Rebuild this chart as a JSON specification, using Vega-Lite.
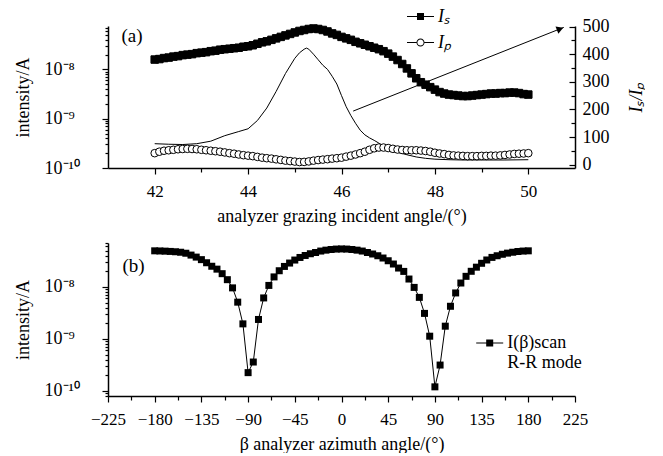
{
"$schema": "https://vega.github.io/schema/vega-lite/v6.json",
"padding": {"left": 14, "top": 3, "right": 0, "bottom": 0},
"spacing": 9,
"resolve": {"scale": {"shape": "independent", "fill": "independent", "x": "independent", "y": "independent"}, "legend": {"shape": "independent", "fill": "independent"}},
"config": {
 "font": "Liberation Serif",
 "view": {"stroke": null},
 "axis": {"labelFont": "Liberation Serif", "labelFontSize": 17, "labelColor": "black", "titleFont": "Liberation Serif", "titleFontSize": 18, "titleFontWeight": "normal", "titleColor": "black", "domainColor": "black", "domainWidth": 1.5, "tickColor": "black", "tickWidth": 1.2, "grid": false, "labelOverlap": false, "labelFlush": false},
 "legend": {"labelFont": "Liberation Serif", "labelFontSize": 18, "labelColor": "black", "padding": 0, "rowPadding": 3, "symbolStrokeWidth": 1, "labelOffset": 4},
 "text": {"font": "Liberation Serif", "color": "black"}
},
"vconcat": [
{
 "width": 467, "height": 142,
 "resolve": {"scale": {"y": "independent"}},
 "layer": [
  {
   "encoding": {
    "x": {"field": "x", "type": "quantitative", "scale": {"domain": [41, 51], "nice": false, "zero": false},
      "axis": {"values": [42,43,44,45,46,47,48,49,50], "labelExpr": "datum.value % 2 == 0 ? datum.label : ''", "tickSize": {"condition": {"test": "datum.value % 2 == 0", "value": 6}, "value": 4}, "labelPadding": 9, "title": "analyzer grazing incident angle/(°)", "titlePadding": 8}},
    "y": {"field": "r", "type": "quantitative", "scale": {"domain": [-12, 502], "nice": false, "zero": false},
      "axis": {"orient": "right", "values": [0,50,100,150,200,250,300,350,400,450,500], "labelExpr": "datum.value % 100 == 0 ? datum.label : ''", "tickSize": {"condition": {"test": "datum.value % 100 == 0", "value": -6}, "value": -4}, "labelPadding": 13, "labelFontSize": 18, "title": "Iₛ/Iₚ", "titleAngle": 270, "titleBaseline": "top", "titlePadding": 18, "titleFontStyle": "italic"}}
   },
   "layer": [
    {"data": {"values": [
      {"x":42.0,"r":76},{"x":42.3,"r":74},{"x":42.6,"r":73},{"x":42.9,"r":76},{"x":43.2,"r":85},{"x":43.5,"r":105},{"x":43.8,"r":120},{"x":44.0,"r":130},{"x":44.2,"r":160},{"x":44.4,"r":205},{"x":44.6,"r":265},{"x":44.8,"r":330},{"x":45.0,"r":385},{"x":45.1,"r":405},{"x":45.2,"r":418},{"x":45.25,"r":422},{"x":45.3,"r":418},{"x":45.4,"r":400},{"x":45.5,"r":380},{"x":45.6,"r":360},{"x":45.7,"r":345},{"x":45.8,"r":320},{"x":45.9,"r":292},{"x":46.0,"r":250},{"x":46.1,"r":210},{"x":46.2,"r":178},{"x":46.3,"r":150},{"x":46.4,"r":125},{"x":46.5,"r":108},{"x":46.6,"r":97},{"x":46.7,"r":88},{"x":46.8,"r":78},{"x":46.9,"r":67},{"x":47.0,"r":58},{"x":47.2,"r":45},{"x":47.4,"r":36},{"x":47.6,"r":28},{"x":47.8,"r":23},{"x":48.0,"r":20},{"x":48.3,"r":18},{"x":48.6,"r":17},{"x":49.0,"r":17},{"x":49.5,"r":17},{"x":50.0,"r":18}
     ]},
     "mark": {"type": "line", "color": "black", "strokeWidth": 1}},
    {"data": {"values": [{"x": 46.25, "r": 194}, {"x": 50.76, "r": 497}]},
     "mark": {"type": "line", "color": "black", "strokeWidth": 1}},
    {"data": {"values": [{"x": 50.68, "r": 491.6}]},
     "mark": {"type": "point", "shape": "triangle-right", "angle": 338.4, "size": 60, "filled": true, "color": "black", "opacity": 1}}
   ]
  },
  {
   "encoding": {
    "x": {"field": "x", "type": "quantitative", "scale": {"domain": [41, 51], "nice": false, "zero": false},
      "axis": {"values": [42,43,44,45,46,47,48,49,50], "labelExpr": "datum.value % 2 == 0 ? datum.label : ''", "tickSize": {"condition": {"test": "datum.value % 2 == 0", "value": 6}, "value": 4}, "labelPadding": 9, "title": "analyzer grazing incident angle/(°)", "titlePadding": 8}},
    "y": {"field": "v", "type": "quantitative", "scale": {"type": "log", "domain": [1e-10, 7.6e-8], "nice": false},
      "axis": {"orient": "left", "values": [1e-10,2e-10,3e-10,4e-10,5e-10,6e-10,7e-10,8e-10,9e-10,1e-9,2e-9,3e-9,4e-9,5e-9,6e-9,7e-9,8e-9,9e-9,1e-8,2e-8,3e-8,4e-8,5e-8,6e-8,7e-8],
        "labelExpr": "datum.value == 1e-10 ? '10⁻¹⁰' : datum.value == 1e-9 ? '10⁻⁹' : datum.value == 1e-8 ? '10⁻⁸' : ''",
        "tickSize": {"condition": {"test": "datum.value == 1e-10 || datum.value == 1e-9 || datum.value == 1e-8", "value": 6}, "value": 3},
        "labelAlign": "left", "labelPadding": 58, "labelFontSize": 18, "title": "intensity/A", "titlePadding": 12}}
   },
   "layer": [
    {"data": {"values": [
      {"x":42.0,"v":1.585e-8},{"x":42.1,"v":1.622e-8},{"x":42.2,"v":1.698e-8},{"x":42.3,"v":1.738e-8},{"x":42.4,"v":1.820e-8},{"x":42.5,"v":1.862e-8},{"x":42.6,"v":1.950e-8},{"x":42.7,"v":1.995e-8},{"x":42.8,"v":2.042e-8},{"x":42.9,"v":2.138e-8},
      {"x":43.0,"v":2.188e-8},{"x":43.1,"v":2.239e-8},{"x":43.2,"v":2.344e-8},{"x":43.3,"v":2.399e-8},{"x":43.4,"v":2.512e-8},{"x":43.5,"v":2.570e-8},{"x":43.6,"v":2.630e-8},{"x":43.7,"v":2.692e-8},{"x":43.8,"v":2.754e-8},{"x":43.9,"v":2.884e-8},
      {"x":44.0,"v":2.951e-8},{"x":44.1,"v":3.090e-8},{"x":44.2,"v":3.311e-8},{"x":44.3,"v":3.548e-8},{"x":44.4,"v":3.715e-8},{"x":44.5,"v":3.981e-8},{"x":44.6,"v":4.266e-8},{"x":44.7,"v":4.571e-8},{"x":44.8,"v":4.898e-8},{"x":44.9,"v":5.248e-8},
      {"x":45.0,"v":5.623e-8},{"x":45.1,"v":6.026e-8},{"x":45.2,"v":6.310e-8},{"x":45.3,"v":6.607e-8},{"x":45.4,"v":6.761e-8},{"x":45.5,"v":6.607e-8},{"x":45.6,"v":6.310e-8},{"x":45.7,"v":5.888e-8},{"x":45.8,"v":5.370e-8},{"x":45.9,"v":5.012e-8},
      {"x":46.0,"v":4.571e-8},{"x":46.1,"v":4.266e-8},{"x":46.2,"v":3.981e-8},{"x":46.3,"v":3.631e-8},{"x":46.4,"v":3.388e-8},{"x":46.5,"v":3.162e-8},{"x":46.6,"v":2.951e-8},{"x":46.7,"v":2.754e-8},{"x":46.8,"v":2.570e-8},{"x":46.9,"v":2.344e-8},
      {"x":47.0,"v":2.089e-8},{"x":47.1,"v":1.820e-8},{"x":47.2,"v":1.549e-8},{"x":47.3,"v":1.288e-8},{"x":47.4,"v":1.047e-8},{"x":47.5,"v":8.32e-9},{"x":47.6,"v":6.61e-9},{"x":47.7,"v":5.50e-9},{"x":47.8,"v":4.90e-9},{"x":47.9,"v":4.37e-9},
      {"x":48.0,"v":3.89e-9},{"x":48.1,"v":3.47e-9},{"x":48.2,"v":3.24e-9},{"x":48.3,"v":3.09e-9},{"x":48.4,"v":3.02e-9},{"x":48.5,"v":2.95e-9},{"x":48.6,"v":2.88e-9},{"x":48.7,"v":2.88e-9},{"x":48.8,"v":2.95e-9},{"x":48.9,"v":3.02e-9},
      {"x":49.0,"v":3.09e-9},{"x":49.1,"v":3.16e-9},{"x":49.2,"v":3.24e-9},{"x":49.3,"v":3.24e-9},{"x":49.4,"v":3.31e-9},{"x":49.5,"v":3.31e-9},{"x":49.6,"v":3.39e-9},{"x":49.7,"v":3.39e-9},{"x":49.8,"v":3.31e-9},{"x":49.9,"v":3.16e-9},{"x":50.0,"v":3.09e-9}
     ]},
     "mark": {"type": "point", "shape": "square", "size": 56, "opacity": 1, "fill": "black", "stroke": "black", "strokeWidth": 1, "filled": true}},
    {"data": {"values": [
      {"x":42.0,"v":2.00e-10},{"x":42.1,"v":2.14e-10},{"x":42.2,"v":2.24e-10},{"x":42.3,"v":2.29e-10},{"x":42.4,"v":2.34e-10},{"x":42.5,"v":2.40e-10},{"x":42.6,"v":2.43e-10},{"x":42.7,"v":2.45e-10},{"x":42.8,"v":2.43e-10},{"x":42.9,"v":2.40e-10},
      {"x":43.0,"v":2.34e-10},{"x":43.1,"v":2.29e-10},{"x":43.2,"v":2.24e-10},{"x":43.3,"v":2.19e-10},{"x":43.4,"v":2.14e-10},{"x":43.5,"v":2.07e-10},{"x":43.6,"v":2.00e-10},{"x":43.7,"v":1.95e-10},{"x":43.8,"v":1.88e-10},{"x":43.9,"v":1.82e-10},
      {"x":44.0,"v":1.78e-10},{"x":44.1,"v":1.74e-10},{"x":44.2,"v":1.68e-10},{"x":44.3,"v":1.62e-10},{"x":44.4,"v":1.58e-10},{"x":44.5,"v":1.55e-10},{"x":44.6,"v":1.50e-10},{"x":44.7,"v":1.46e-10},{"x":44.8,"v":1.41e-10},{"x":44.9,"v":1.38e-10},
      {"x":45.0,"v":1.35e-10},{"x":45.1,"v":1.32e-10},{"x":45.2,"v":1.33e-10},{"x":45.3,"v":1.36e-10},{"x":45.4,"v":1.41e-10},{"x":45.5,"v":1.45e-10},{"x":45.6,"v":1.48e-10},{"x":45.7,"v":1.51e-10},{"x":45.8,"v":1.55e-10},{"x":45.9,"v":1.58e-10},
      {"x":46.0,"v":1.62e-10},{"x":46.1,"v":1.70e-10},{"x":46.2,"v":1.78e-10},{"x":46.3,"v":1.88e-10},{"x":46.4,"v":2.00e-10},{"x":46.5,"v":2.14e-10},{"x":46.6,"v":2.34e-10},{"x":46.7,"v":2.51e-10},{"x":46.8,"v":2.60e-10},{"x":46.9,"v":2.60e-10},
      {"x":47.0,"v":2.54e-10},{"x":47.1,"v":2.45e-10},{"x":47.2,"v":2.37e-10},{"x":47.3,"v":2.32e-10},{"x":47.4,"v":2.29e-10},{"x":47.5,"v":2.29e-10},{"x":47.6,"v":2.29e-10},{"x":47.7,"v":2.26e-10},{"x":47.8,"v":2.21e-10},{"x":47.9,"v":2.14e-10},
      {"x":48.0,"v":2.04e-10},{"x":48.1,"v":1.97e-10},{"x":48.2,"v":1.91e-10},{"x":48.3,"v":1.84e-10},{"x":48.4,"v":1.80e-10},{"x":48.5,"v":1.78e-10},{"x":48.6,"v":1.76e-10},{"x":48.7,"v":1.74e-10},{"x":48.8,"v":1.74e-10},{"x":48.9,"v":1.74e-10},
      {"x":49.0,"v":1.76e-10},{"x":49.1,"v":1.76e-10},{"x":49.2,"v":1.78e-10},{"x":49.3,"v":1.78e-10},{"x":49.4,"v":1.80e-10},{"x":49.5,"v":1.84e-10},{"x":49.6,"v":1.88e-10},{"x":49.7,"v":1.93e-10},{"x":49.8,"v":1.95e-10},{"x":49.9,"v":1.97e-10},{"x":50.0,"v":2.00e-10}
     ]},
     "mark": {"type": "point", "shape": "circle", "size": 58, "opacity": 1, "fill": "white", "stroke": "black", "strokeWidth": 1, "filled": true}},
    {"data": {"values": [{"s": "IS"}, {"s": "IP"}]},
     "mark": {"type": "point", "opacity": 0, "filled": true, "color": "black"},
     "encoding": {
      "shape": {"field": "s", "type": "nominal", "scale": {"domain": ["IS", "IP"], "range": [
          "M-1,-0.04H-0.26V-0.26H0.26V-0.04H1V0.04H0.26V0.26H-0.26V0.04H-1Z",
          "M-1,-0.04H-0.3V0.04H-1Z M0.3,-0.04H1V0.04H0.3Z M0.3,0A0.3,0.3 0 1,1 -0.3,0A0.3,0.3 0 1,1 0.3,0Z M0.23,0A0.23,0.23 0 1,0 -0.23,0A0.23,0.23 0 1,0 0.23,0Z"]},
        "legend": {"orient": "none", "legendX": 299, "legendY": -23, "title": null, "symbolSize": 729, "labelFontStyle": "italic",
          "symbolOpacity": 1, "symbolFillColor": "black", "symbolStrokeWidth": 0,
          "labelExpr": "datum.value == 'IS' ? 'Iₛ' : 'Iₚ'"}}
     }},
    {"data": {"values": [{"x": 41.29, "v": 4.75e-8, "t": "(a)"}]},
     "mark": {"type": "text", "align": "left", "baseline": "middle", "fontSize": 19},
     "encoding": {"text": {"field": "t"}}}
   ]
  }
 ]
},
{
 "width": 467, "height": 153,
 "encoding": {
  "x": {"field": "b", "type": "quantitative", "scale": {"domain": [-225, 225], "nice": false, "zero": false},
    "axis": {"values": [-225,-202.5,-180,-157.5,-135,-112.5,-90,-67.5,-45,-22.5,0,22.5,45,67.5,90,112.5,135,157.5,180,202.5,225],
      "labelExpr": "datum.value % 45 == 0 ? datum.label : ''", "tickSize": {"condition": {"test": "datum.value % 45 == 0", "value": 6}, "value": 4}, "labelPadding": 9, "title": "β analyzer azimuth angle/(°)", "titlePadding": 8}},
  "y": {"field": "i", "type": "quantitative", "scale": {"type": "log", "domain": [8e-11, 7e-8], "nice": false},
    "axis": {"values": [8e-11,9e-11,1e-10,2e-10,3e-10,4e-10,5e-10,6e-10,7e-10,8e-10,9e-10,1e-9,2e-9,3e-9,4e-9,5e-9,6e-9,7e-9,8e-9,9e-9,1e-8,2e-8,3e-8,4e-8,5e-8,6e-8,7e-8],
      "labelExpr": "datum.value == 1e-10 ? '10⁻¹⁰' : datum.value == 1e-9 ? '10⁻⁹' : datum.value == 1e-8 ? '10⁻⁸' : ''",
      "tickSize": {"condition": {"test": "datum.value == 1e-10 || datum.value == 1e-9 || datum.value == 1e-8", "value": 6}, "value": 3},
      "labelAlign": "left", "labelPadding": 58, "labelFontSize": 18, "title": "intensity/A", "titlePadding": 12}}
 },
 "layer": [
  {"data": {"values": [
   {"b":-180,"i":4.95e-8},{"b":-175,"i":4.92e-8},{"b":-170,"i":4.88e-8},{"b":-165,"i":4.82e-8},{"b":-160,"i":4.75e-8},{"b":-155,"i":4.65e-8},{"b":-150,"i":4.45e-8},{"b":-145,"i":4.1e-8},{"b":-140,"i":3.75e-8},{"b":-135,"i":3.35e-8},
   {"b":-130,"i":2.92e-8},{"b":-125,"i":2.5e-8},{"b":-120,"i":2.2e-8},{"b":-115,"i":1.8e-8},{"b":-110,"i":1.38e-8},{"b":-105,"i":9.6e-9},{"b":-100,"i":5.1e-9},{"b":-95,"i":1.95e-9},{"b":-90,"i":2.25e-10},{"b":-85,"i":3.6e-10},
   {"b":-80,"i":2.37e-9},{"b":-75,"i":6.15e-9},{"b":-70,"i":1.07e-8},{"b":-65,"i":1.56e-8},{"b":-60,"i":2.05e-8},{"b":-55,"i":2.48e-8},{"b":-50,"i":2.88e-8},{"b":-45,"i":3.29e-8},{"b":-40,"i":3.69e-8},{"b":-35,"i":4.03e-8},
   {"b":-30,"i":4.35e-8},{"b":-25,"i":4.6e-8},{"b":-20,"i":4.9e-8},{"b":-15,"i":5.1e-8},{"b":-10,"i":5.25e-8},{"b":-5,"i":5.35e-8},{"b":0,"i":5.38e-8},{"b":5,"i":5.35e-8},{"b":10,"i":5.25e-8},{"b":15,"i":5.1e-8},
   {"b":20,"i":4.9e-8},{"b":25,"i":4.6e-8},{"b":30,"i":4.3e-8},{"b":35,"i":3.98e-8},{"b":40,"i":3.6e-8},{"b":45,"i":3.19e-8},{"b":50,"i":2.76e-8},{"b":55,"i":2.31e-8},{"b":60,"i":1.99e-8},{"b":65,"i":1.42e-8},
   {"b":70,"i":9.8e-9},{"b":75,"i":6.3e-9},{"b":80,"i":3.1e-9},{"b":85,"i":1.13e-9},{"b":90,"i":1.2e-10},{"b":95,"i":3.15e-10},{"b":100,"i":1.76e-9},{"b":105,"i":4.25e-9},{"b":110,"i":7.67e-9},{"b":115,"i":1.19e-8},
   {"b":120,"i":1.6e-8},{"b":125,"i":2.0e-8},{"b":130,"i":2.4e-8},{"b":135,"i":2.85e-8},{"b":140,"i":3.3e-8},{"b":145,"i":3.7e-8},{"b":150,"i":3.98e-8},{"b":155,"i":4.25e-8},{"b":160,"i":4.47e-8},{"b":165,"i":4.65e-8},
   {"b":170,"i":4.8e-8},{"b":175,"i":4.9e-8},{"b":180,"i":4.95e-8}
  ]},
   "layer": [
    {"mark": {"type": "line", "color": "black", "strokeWidth": 1}},
    {"mark": {"type": "point", "shape": "square", "filled": true, "size": 49, "opacity": 1, "color": "black"}}
   ]},
  {"data": {"values": [{"s": "scan"}]},
   "mark": {"type": "point", "opacity": 0, "filled": true, "color": "black"},
   "encoding": {"shape": {"field": "s", "type": "nominal", "scale": {"domain": ["scan"], "range": ["M-1,-0.04H-0.26V-0.26H0.26V-0.04H1V0.04H0.26V0.26H-0.26V0.04H-1Z"]},
     "legend": {"orient": "none", "legendX": 368.2, "legendY": 86.5, "title": null, "symbolSize": 729,
       "symbolOpacity": 1, "symbolFillColor": "black", "symbolStrokeWidth": 0,
       "labelExpr": "['I(β)scan', 'R-R mode']"}}}},
  {"data": {"values": [{"b": -211.1, "i": 2.56e-8, "t": "(b)"}]},
   "mark": {"type": "text", "align": "left", "baseline": "middle", "fontSize": 19},
   "encoding": {"text": {"field": "t"}}}
 ]
}
]
}
